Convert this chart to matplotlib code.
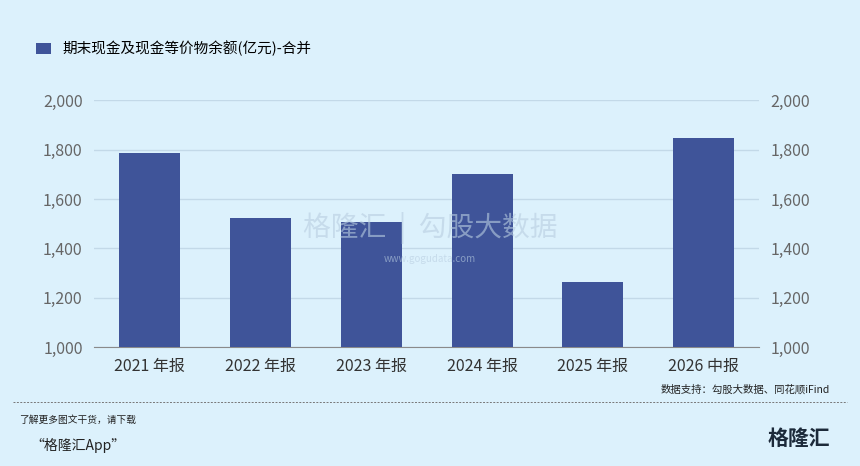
import matplotlib.pyplot as plt

plt.rcParams['font.family'] = ['Noto Sans CJK SC', 'DejaVu Sans']

periods = ["2021 年报", "2022 年报", "2023 年报", "2024 年报", "2025 年报", "2026 中报"]
cash = [1785, 1525, 1505, 1700, 1265, 1848]
legend_label = "期末现金及现金等价物余额(亿元)-合并"
ticks = [1000, 1200, 1400, 1600, 1800, 2000]

bg = "#dcf1fc"
bar_color = "#3f5499"

fig = plt.figure(figsize=(8.6, 4.66), dpi=100, facecolor=bg)
ax = fig.add_axes([0.109, 0.255, 0.774, 0.53], facecolor=bg)

ax.bar(range(len(periods)), cash, width=0.55, color=bar_color, label=legend_label, zorder=3)
ax.set_ylim(1000, 2000)
ax.set_xlim(-0.5, len(periods) - 0.5)
ax.set_yticks(ticks)
ax.set_yticklabels([f"{t:,}" for t in ticks])
ax.set_xticks(range(len(periods)))
ax.set_xticklabels(periods)
ax.grid(axis="y", color="#c3d9e8", linewidth=1, zorder=0)
for s in ["top", "left", "right"]:
    ax.spines[s].set_visible(False)
ax.spines["bottom"].set_color("#8a8a8a")
ax.tick_params(axis="both", length=0, labelsize=11.5, colors="#666666", pad=8)
ax.tick_params(axis="x", colors="#333333")

ax2 = ax.twinx()
ax2.set_ylim(1000, 2000)
ax2.set_yticks(ticks)
ax2.set_yticklabels([f"{t:,}" for t in ticks])
for s in ax2.spines.values():
    s.set_visible(False)
ax2.tick_params(axis="y", length=0, labelsize=11.5, colors="#666666", pad=8)

ax.legend(loc="upper left", bbox_to_anchor=(0.035, 0.925), bbox_transform=fig.transFigure,
          frameon=False, fontsize=10.5, handlelength=1.0, handleheight=0.8, borderaxespad=0)

# watermark
fig.text(0.5, 0.51, "格隆汇  |  勾股大数据", ha="center", va="center", fontsize=20,
         color="#b8cde0", alpha=0.6, zorder=5)
fig.text(0.5, 0.445, "www.gogudata.com", ha="center", va="center", fontsize=7,
         color="#b8cde0", alpha=0.6)

fig.text(0.965, 0.165, "数据支持：勾股大数据、同花顺iFind", ha="right", va="center",
         fontsize=7.5, color="#222222")
fig.add_artist(plt.Line2D([0.015, 0.985], [0.138, 0.138], transform=fig.transFigure,
                          color="#777777", linewidth=0.7, linestyle=(0, (2, 1.5))))
fig.text(0.022, 0.092, "了解更多图文干货，请下载", fontsize=7, style="italic", color="#222222")
fig.text(0.035, 0.035, "“格隆汇App”", fontsize=10, style="italic", color="#222222")
fig.text(0.965, 0.06, "格隆汇", ha="right", va="center", fontsize=15, fontweight="bold",
         color="#1c2a3a")

fig.savefig("out.png", dpi=100, facecolor=bg)
